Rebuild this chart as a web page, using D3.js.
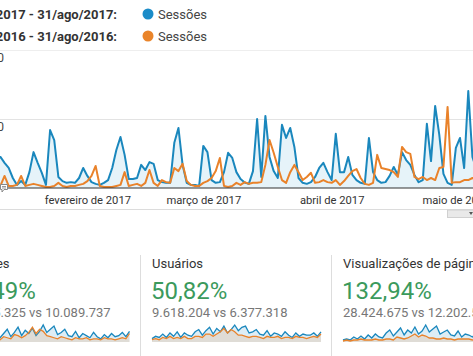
<!DOCTYPE html>
<html><head><meta charset="utf-8">
<script src="https://cdn.jsdelivr.net/npm/d3@7"></script>
<style>
body{margin:0;background:#fff;overflow:hidden}
svg{display:block;font-family:Roboto,"Noto Sans",Arial,sans-serif}
</style></head><body>
<svg id="c" width="473" height="356"></svg>
<script>
// ---------- data ----------
const startDate = "2017-01-10";
const rangeStart = "2017-01-01";
const rangeEnd = "2017-08-31";
const legendRanges = ["1/jan/2017 - 31/ago/2017:", "1/jan/2016 - 31/ago/2016:"];
const seriesName = "Sessões";
// daily sessions (visible window), thousands
const sessoes2017k = [81,90,73,58,29,9,20,9,46,104,
  73,44,9,168,139,32,20,15,17,15,
  29,58,35,17,12,9,15,23,58,110,
  148,96,26,26,29,67,52,75,70,23,
  17,15,15,131,174,67,15,9,9,6,
  122,104,23,15,17,46,102,87,46,26,
  16,12,49,200,32,209,90,49,29,183,
  145,174,119,29,15,12,17,32,58,73,
  46,23,157,46,46,90,38,23,15,12,
  145,46,23,15,17,35,61,38,104,81,
  67,38,17,23,186,78,238,154,41,15,
  9,116,145,58,281,90,52];
const sessoes2016k = [6,6,35,6,6,9,35,6,9,12,
  9,6,3,3,6,15,6,3,6,6,
  9,12,20,35,64,6,3,3,3,6,
  9,46,6,9,12,6,15,52,15,6,
  23,17,15,58,49,70,20,9,6,6,
  15,20,29,49,87,6,3,6,15,9,
  17,12,15,15,17,67,139,102,61,23,
  15,46,67,46,23,32,44,15,17,23,
  17,15,23,9,20,35,49,55,29,12,
  9,15,96,58,55,52,46,32,119,104,
  99,32,26,32,23,29,23,58,61,235,
  15,17,17,23,23,29,23];
const monthTicks = ["2017-02-01","2017-03-01","2017-04-01","2017-05-01"];
const monthLabels = ["fevereiro de 2017","março de 2017","abril de 2017","maio de 2017"];
const yTicks = [200000, 400000];
const yTickLabels = ["200.000","400.000"];

const cardTitles = ["Sessões","Usuários","Visualizações de página"];
const cardChanges = ["41,49%","50,82%","132,94%"];
const cardCompare = ["14.275.325 vs 10.089.737","9.618.204 vs 6.377.318","28.424.675 vs 12.202.573"];
// sparkline series (every ~5 days, relative units)
const sparkBlue = [
  [4,6,3,8,5,9,4,7,3,10,6,4,8,12,5,9,14,6,11,8,13,6,10,16,9,12,15,7,9,12,6,5,10,4,8,6,4,9,5,3,7,4,8,5,6,9,5,10],
  [3,5,4,7,4,8,5,9,4,8,6,5,9,11,6,10,13,7,12,9,14,8,11,15,10,13,14,8,9,11,7,6,10,5,8,7,5,9,6,4,8,5,7,6,6,8,5,9],
  [2,3,2,5,3,6,3,7,4,8,5,4,9,12,6,10,14,7,12,9,15,8,11,17,10,13,16,8,10,12,7,6,11,5,8,7,5,9,6,4,8,5,7,6,6,8,5,9]
];
const sparkOrange = [
  [2,3,2,4,3,5,2,3,2,4,3,2,5,4,3,7,6,4,6,9,14,8,12,10,6,5,4,3,5,4,3,2,4,3,3,4,2,3,3,2,4,3,3,2,3,4,3,8],
  [2,3,2,4,3,5,3,4,3,5,3,3,5,5,4,7,7,5,7,9,12,8,11,9,6,6,5,4,5,5,4,3,5,4,4,5,3,4,4,3,5,4,4,3,4,5,4,7],
  [1,2,1,2,2,3,2,2,2,3,2,2,3,3,2,5,4,3,4,6,8,5,7,6,4,4,3,3,4,3,3,2,3,3,3,3,2,3,3,2,3,3,3,2,3,3,3,5]
];

// ---------- drawing ----------
const svg = d3.select("#c");
const parse = d3.timeParse("%Y-%m-%d");
const t0 = parse(startDate);
const s2017 = sessoes2017k.map((v,i)=>({d:d3.timeDay.offset(t0,i), v:v*1000}));
const s2016 = sessoes2016k.map((v,i)=>({d:d3.timeDay.offset(t0,i), v:v*1000}));

const BLUE = "#1a87bd", ORANGE = "#e9822a";

// legend
const legend = svg.append("g");
legendRanges.forEach((t,i)=>{
  const cy = 14 + i*22;
  legend.append("text").attr("x",117).attr("y",cy+4.5).attr("text-anchor","end")
    .attr("font-size",13).attr("font-weight","bold").attr("fill","#333").text(t);
  legend.append("circle").attr("cx",148).attr("cy",cy).attr("r",5.5).attr("fill", i===0?"#1b8cc8":"#ea8429");
  legend.append("text").attr("x",158).attr("y",cy+4.5).attr("font-size",13).attr("fill","#444").text(seriesName);
});

// scales
const x = d3.scaleTime().domain([parse(rangeStart), parse(rangeEnd)]).range([-41, 961]);
const y = d3.scaleLinear().domain([0, 400000]).range([188, 50]);

// gridlines
svg.append("g").selectAll("line").data(yTicks).join("line")
  .attr("x1",0).attr("x2",473).attr("y1",d=>y(d)+0.5).attr("y2",d=>y(d)+0.5)
  .attr("stroke",(d,i)=> i===1?"#eeeeee":"#e3e3e3");
svg.append("g").selectAll("text").data(yTicks).join("text")
  .attr("x",4).attr("y",d=>y(d)+12).attr("text-anchor","end")
  .attr("font-size",12).attr("fill","#444").text((d,i)=>yTickLabels[i]);

// area + lines
const area = d3.area().x(d=>x(d.d)).y0(y(0)).y1(d=>y(d.v));
const line = d3.line().x(d=>x(d.d)).y(d=>y(d.v));
svg.append("path").datum(s2017).attr("d",area).attr("fill","rgba(5,141,199,0.10)");
svg.append("path").datum(s2017).attr("d",line).attr("fill","none").attr("stroke",BLUE)
  .attr("stroke-width",2).attr("stroke-linejoin","round");
svg.append("path").datum(s2016).attr("d",line).attr("fill","none").attr("stroke",ORANGE)
  .attr("stroke-width",2).attr("stroke-linejoin","round");

// x axis
svg.append("line").attr("x1",0).attr("x2",473).attr("y1",188).attr("y2",188)
  .attr("stroke","#333").attr("stroke-width",1.2);
const xAxis = d3.axisBottom(x).tickValues(monthTicks.map(parse))
  .tickFormat((d,i)=>monthLabels[i]).tickSize(0).tickPadding(8);
const gx = svg.append("g").attr("transform","translate(0,188)").call(xAxis);
gx.select(".domain").remove();
gx.selectAll("text").attr("font-size",11.2).attr("fill","#333")
  .attr("font-family","Roboto,Arial,sans-serif");

// annotation icon
const ic = svg.append("g").attr("transform","translate(0,184)");
ic.append("path").attr("d","M0.5,0.5 H7.5 V5.5 H4 L2,8 V5.5 H0.5 Z")
  .attr("fill","#fff").attr("stroke","#888").attr("stroke-width",1);
ic.append("line").attr("x1",2).attr("x2",6).attr("y1",2.5).attr("y2",2.5).attr("stroke","#999");
ic.append("line").attr("x1",2).attr("x2",6).attr("y1",4).attr("y2",4).attr("stroke","#999");

// bottom separator + handle
svg.append("line").attr("x1",0).attr("x2",473).attr("y1",209.5).attr("y2",209.5).attr("stroke","#dcdcdc");
svg.append("rect").attr("x",447.5).attr("y",210).attr("width",30).attr("height",7.5)
  .attr("fill","#e9e9e9").attr("stroke","#d0d0d0");
svg.append("path").attr("d","M469,212 L473,212 L471,215 Z").attr("fill","#555");

// scorecards
const cardX = [-39.5, 152, 343];
const GREEN = "#3b9a5c";
cardX.forEach((cx,i)=>{
  const g = svg.append("g");
  g.append("text").attr("x",cx).attr("y",268).attr("font-size",13).attr("fill","#333").text(cardTitles[i]);
  g.append("text").attr("x",cx-1).attr("y",299).attr("font-size",24).attr("fill",GREEN).text(cardChanges[i]);
  g.append("text").attr("x",cx).attr("y",316.5).attr("font-size",13).attr("fill","#777").text(cardCompare[i]);
  const b = sparkBlue[i], o = sparkOrange[i];
  const sx = d3.scaleLinear().domain([0, b.length-1]).range([cx, cx+169]);
  const sy = d3.scaleLinear().domain([0, d3.max(b.concat(o))]).range([342, 325]);
  const sa = d3.area().x((d,j)=>sx(j)).y0(sy(0)).y1(d=>sy(d));
  const sl = d3.line().x((d,j)=>sx(j)).y(d=>sy(d));
  g.append("path").datum(b).attr("d",sa).attr("fill","rgba(26,135,189,0.15)");
  g.append("path").datum(b).attr("d",sl).attr("fill","none").attr("stroke",BLUE).attr("stroke-width",1.3);
  g.append("path").datum(o).attr("d",sa).attr("fill","rgba(233,130,42,0.15)");
  g.append("path").datum(o).attr("d",sl).attr("fill","none").attr("stroke",ORANGE).attr("stroke-width",1.3);
});
// card separators
svg.append("g").selectAll("line").data([140.5, 331.5]).join("line")
  .attr("x1",d=>d).attr("x2",d=>d).attr("y1",255).attr("y2",356).attr("stroke","#dddddd");
</script>
</body></html>
